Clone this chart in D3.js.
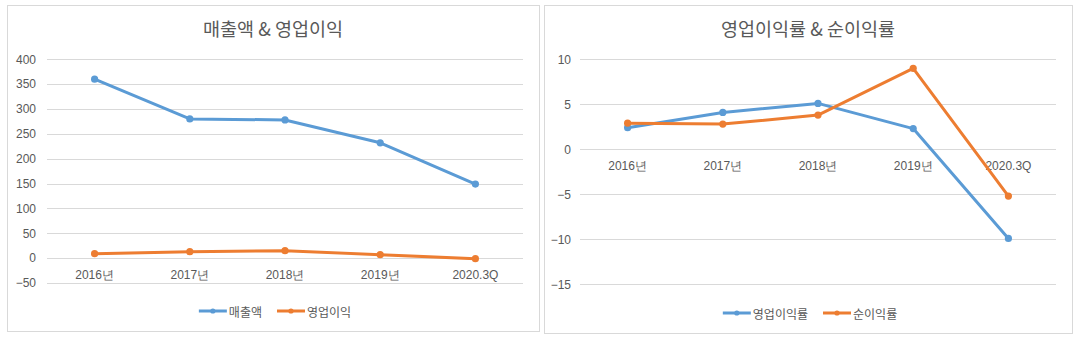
<!DOCTYPE html>
<html><head><meta charset="utf-8">
<script src="https://cdn.jsdelivr.net/npm/d3@7"></script>
<style>
body{margin:0;background:#fff;}
svg{display:block;font-family:"Malgun Gothic","Noto Sans CJK KR","Noto Sans",sans-serif;}
</style></head>
<body><svg id="c" width="1080" height="338"></svg>
<script>
const categories = ["2016년","2017년","2018년","2019년","2020.3Q"];
const sales = [360, 280, 278, 232, 149];
const opProfit = [9, 13, 15, 7, -1];
const opMargin = [2.4, 4.1, 5.1, 2.3, -9.9];
const netMargin = [2.9, 2.8, 3.8, 9.0, -5.2];
const leftTicks = [-50, 0, 50, 100, 150, 200, 250, 300, 350, 400];
const rightTicks = [-15, -10, -5, 0, 5, 10];
const leftTitle = "매출액 & 영업이익";
const rightTitle = "영업이익률 & 순이익률";
const leftNames = ["매출액", "영업이익"];
const rightNames = ["영업이익률", "순이익률"];

const BLUE = "#5B9BD5", ORANGE = "#ED7D31", GRID = "#D9D9D9", TXT = "#595959";
const svg = d3.select("#c");

function panel(cfg){
  const g = svg.append("g");
  g.append("rect").attr("x", cfg.px + 0.5).attr("y", cfg.py + 0.5)
    .attr("width", cfg.pw).attr("height", cfg.ph)
    .attr("fill", "#fff").attr("stroke", GRID).attr("stroke-width", 1);
  g.append("text").attr("x", cfg.px + cfg.pw / 2).attr("y", 27.5)
    .attr("text-anchor", "middle").attr("dominant-baseline", "central")
    .attr("font-size", 18.5).attr("fill", TXT).text(cfg.title);

  const x = d3.scaleBand().domain(categories).range([cfg.x0, cfg.x1]).padding(0);
  const y = d3.scaleLinear().domain(cfg.domain).range([cfg.yb, cfg.yt]);

  const ya = g.append("g").attr("transform", `translate(${cfg.x0},0)`)
    .call(d3.axisLeft(y).tickValues(cfg.ticks).tickSize(-(cfg.x1 - cfg.x0)).tickPadding(cfg.pad).tickFormat(d3.format("d")));
  ya.select(".domain").remove();
  ya.selectAll("line").attr("stroke", GRID).attr("shape-rendering", "crispEdges");
  ya.selectAll("text").attr("fill", TXT).attr("font-size", 12).attr("font-family", null);

  const xa = g.append("g").attr("transform", `translate(0,${y(0)})`)
    .call(d3.axisBottom(x).tickSize(0).tickPadding(12));
  xa.select(".domain").remove();
  xa.selectAll("text").attr("fill", TXT).attr("font-size", 12).attr("font-family", null);

  const cx = c => x(c) + x.bandwidth() / 2;
  cfg.series.forEach((s, i) => {
    const pts = categories.map((c, j) => [cx(c), y(s.values[j])]);
    g.append("path").attr("d", d3.line()(pts)).attr("fill", "none")
      .attr("stroke", s.color).attr("stroke-width", 3).attr("stroke-linejoin", "round").attr("stroke-linecap", "round");
    g.selectAll(null).data(pts).enter().append("circle")
      .attr("cx", d => d[0]).attr("cy", d => d[1]).attr("r", 3.6).attr("fill", s.color);
  });

  // legend
  const lg = g.append("g");
  let off = 0;
  const items = [];
  cfg.series.forEach((s, i) => {
    const it = lg.append("g");
    it.append("line").attr("x1", 0).attr("x2", 28).attr("y1", 0).attr("y2", 0)
      .attr("stroke", s.color).attr("stroke-width", 3);
    it.append("circle").attr("cx", 14).attr("cy", 0).attr("r", 2.6).attr("fill", s.color);
    const t = it.append("text").attr("x", 30).attr("y", 0).attr("dominant-baseline", "central")
      .attr("font-size", 12).attr("fill", TXT).text(s.name);
    const w = 30 + t.node().getComputedTextLength();
    it.attr("transform", `translate(${off},0)`);
    off += w + 15;
  });
  off -= 15;
  lg.attr("transform", `translate(${cfg.px + cfg.pw / 2 - off / 2 + 2},${cfg.ly})`);
}

panel({px: 7, py: 5, pw: 532, ph: 326, title: leftTitle,
  x0: 47, x1: 523, yt: 59.3, yb: 283, domain: [-50, 400], ticks: leftTicks, pad: 11, ly: 311,
  series: [{name: leftNames[0], values: sales, color: BLUE}, {name: leftNames[1], values: opProfit, color: ORANGE}]});

panel({px: 544, py: 5, pw: 528, ph: 328, title: rightTitle,
  x0: 580, x1: 1056, yt: 59.3, yb: 284.3, domain: [-15, 10], ticks: rightTicks, pad: 9, ly: 313,
  series: [{name: rightNames[0], values: opMargin, color: BLUE}, {name: rightNames[1], values: netMargin, color: ORANGE}]});
</script></body></html>
